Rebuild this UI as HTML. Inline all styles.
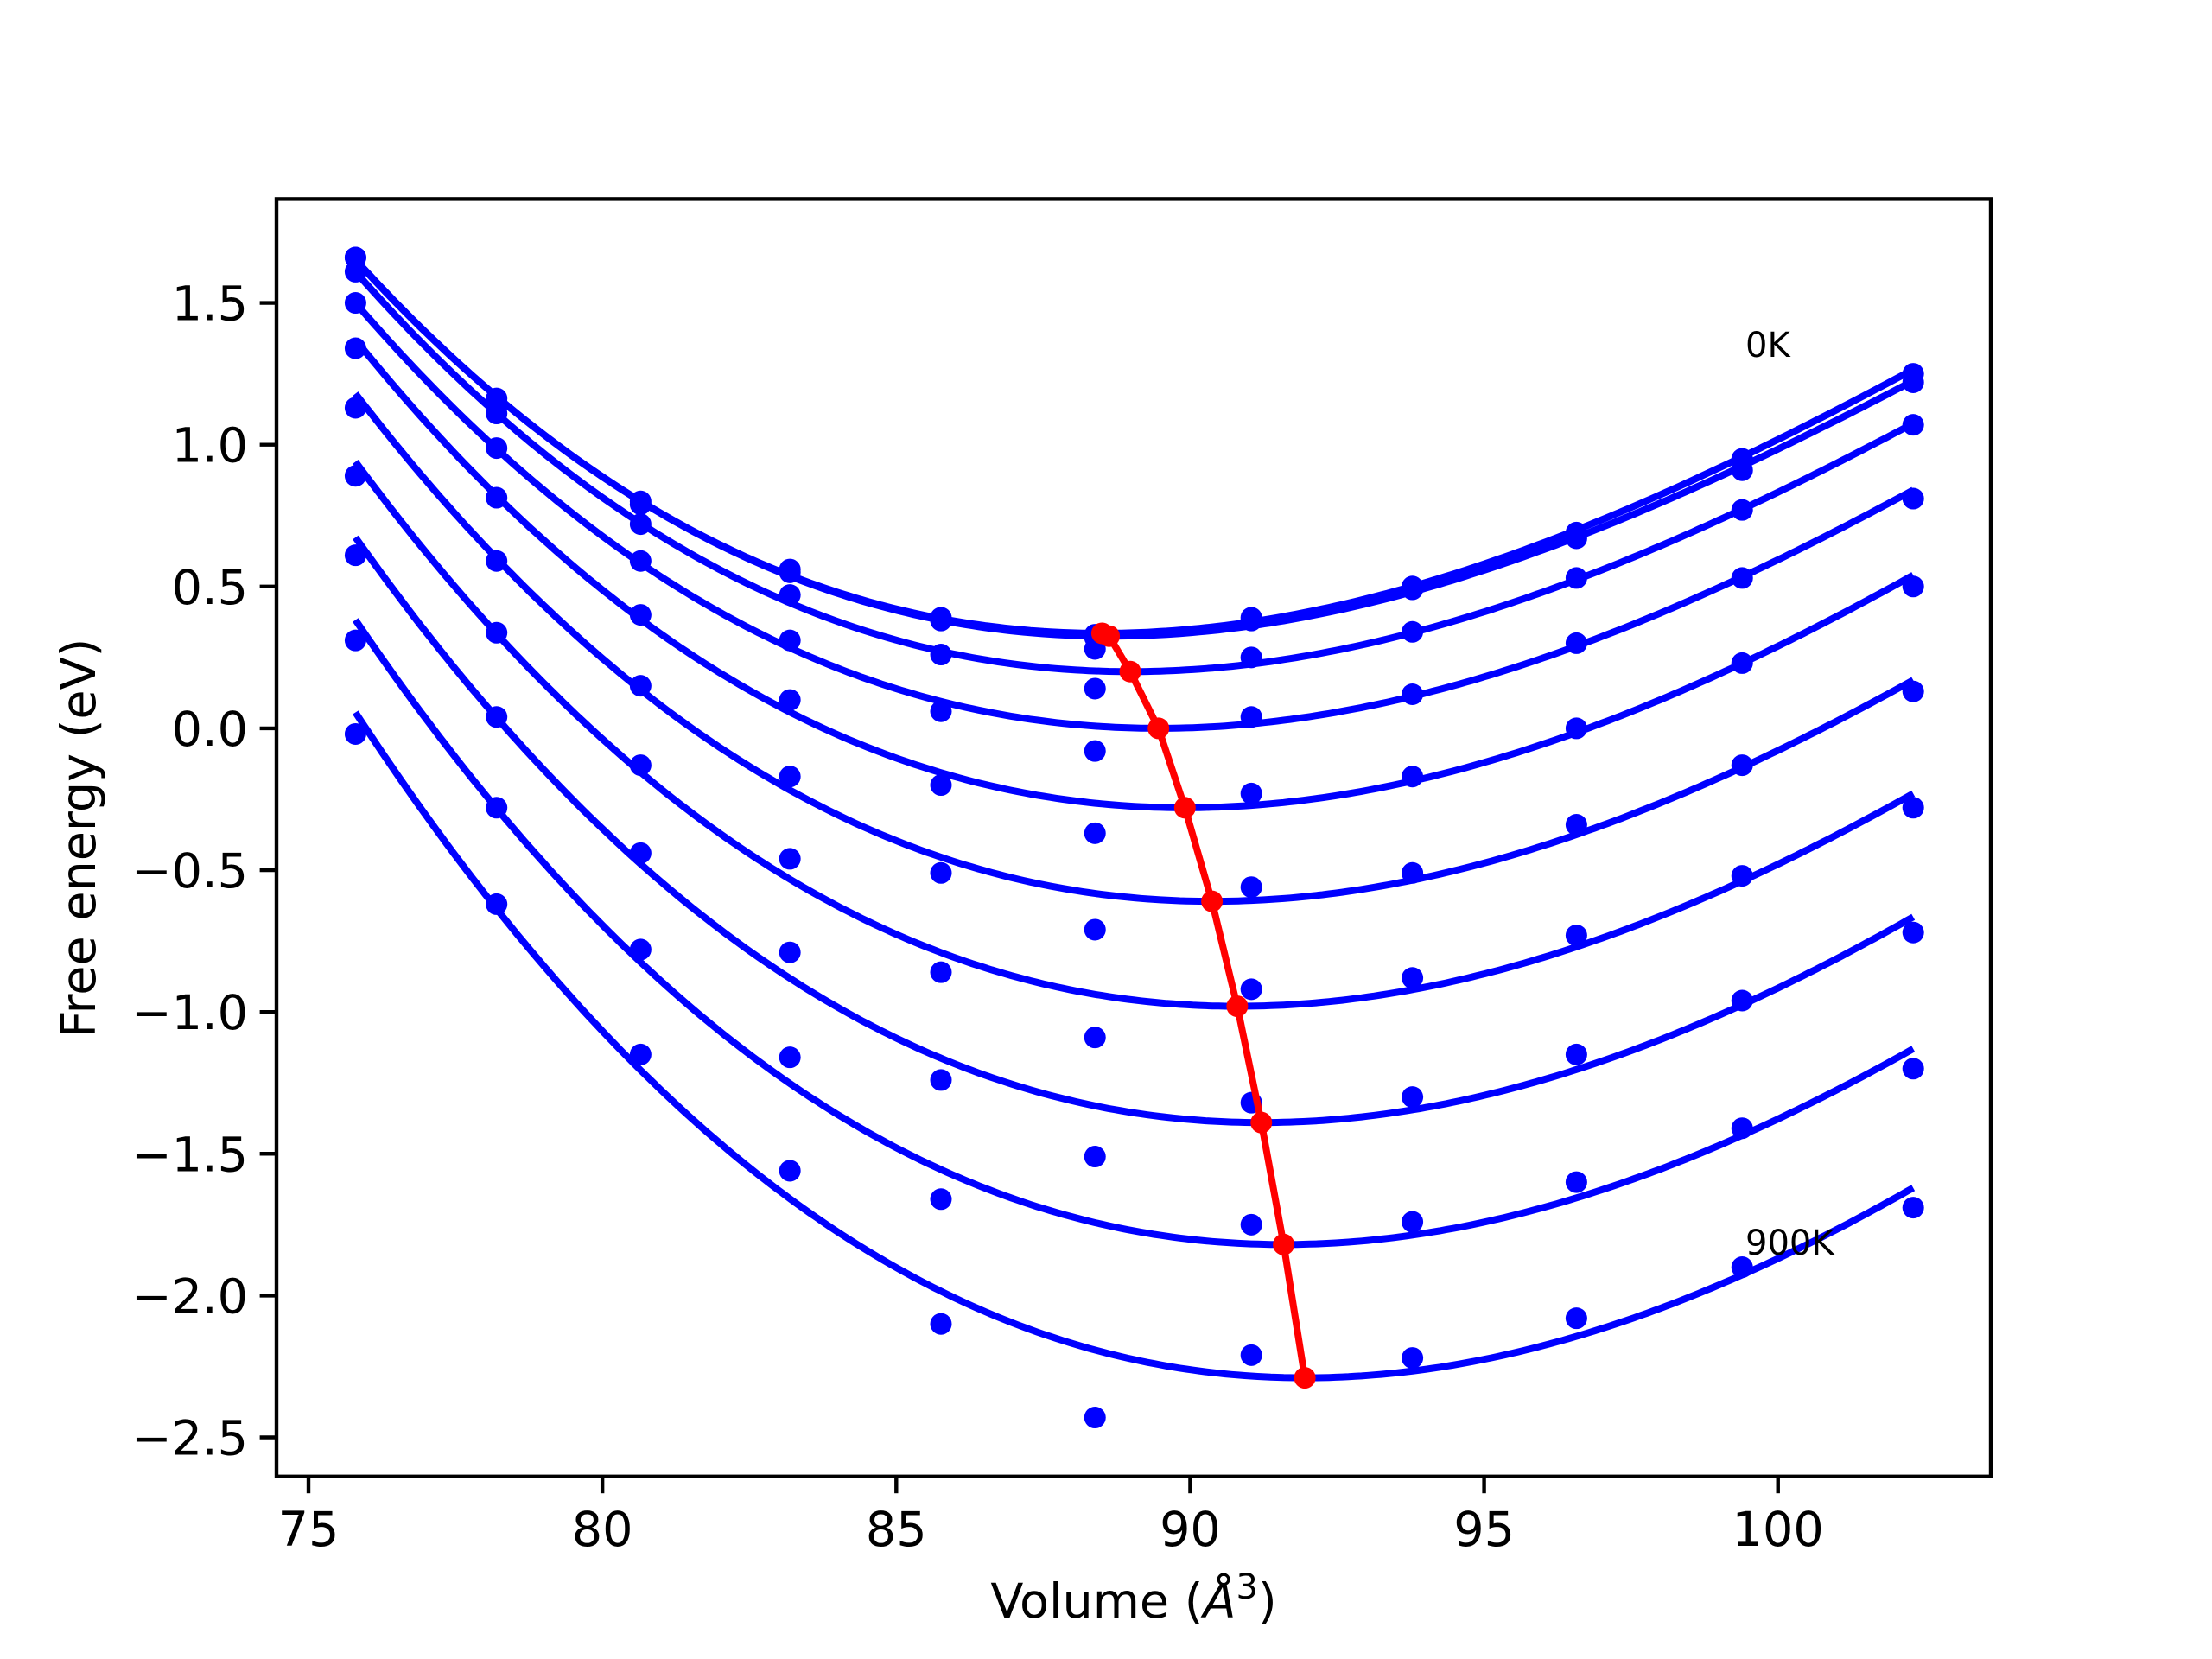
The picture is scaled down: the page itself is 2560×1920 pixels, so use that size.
<!DOCTYPE html>
<html><head><meta charset="utf-8"><style>
html,body{margin:0;padding:0;background:#fff;}
svg{display:block;font-family:"DejaVu Sans","Liberation Sans",sans-serif;}
</style></head>
<body>
<svg id="chart" width="2560" height="1920" viewBox="0 0 2560 1920" xmlns="http://www.w3.org/2000/svg">
<rect x="0" y="0" width="2560" height="1920" fill="#fff"/>
<g id="curves"></g>
<g id="dots"></g>
<g id="minline"></g>
<rect x="320" y="230.4" width="1984" height="1478.4" fill="none" stroke="#000" stroke-width="4.4"/>
<g id="xticks"></g>
<g id="yticks"></g>
<text x="2020" y="413" font-size="40">0K</text>
<text x="2020" y="1452" font-size="40">900K</text>
<text x="1312" y="1872" font-size="55.6" text-anchor="middle">Volume (<tspan font-style="italic">Å</tspan><tspan dy="-22" font-size="40">3</tspan><tspan dy="22">)</tspan></text>
<text transform="translate(110,970) rotate(-90)" font-size="55.6" text-anchor="middle">Free energy (eV)</text>
</svg>
<script>
const volumes = [75.8, 78.2, 80.65, 83.19, 85.76, 88.38, 91.04, 93.78, 96.57, 99.39, 102.3];
const temps = ["0K","100K","200K","300K","400K","500K","600K","700K","800K","900K"];
const dots0 = [1.66, 1.163, 0.80, 0.56, 0.39, 0.33, 0.39, 0.50, 0.69, 0.95, 1.25];
const dots1 = [1.66, 1.15, 0.79, 0.55, 0.38, 0.32, 0.38, 0.49, 0.67, 0.91, 1.22];
const dots2 = [1.61, 1.11, 0.72, 0.47, 0.26, 0.28, 0.25, 0.34, 0.53, 0.77, 1.07];
const dots3 = [1.50, 0.988, 0.59, 0.31, 0.06, 0.14, 0.04, 0.12, 0.30, 0.53, 0.81];
const dots4 = [1.34, 0.813, 0.40, 0.10, -0.20, -0.08, -0.23, -0.17, 0.0, 0.23, 0.50];
const dots5 = [1.13, 0.59, 0.15, -0.17, -0.51, -0.37, -0.56, -0.51, -0.34, -0.13, 0.13];
const dots6 = [0.89, 0.337, -0.13, -0.46, -0.86, -0.71, -0.92, -0.88, -0.73, -0.52, -0.28];
const dots7 = [0.61, 0.04, -0.44, -0.79, -1.24, -1.09, -1.32, -1.30, -1.15, -0.96, -0.72];
const dots8 = [0.31, -0.28, -0.78, -1.16, -1.66, -1.51, -1.75, -1.74, -1.60, -1.41, -1.20];
const dots9 = [-0.02, -0.62, -1.15, -1.56, -2.10, -2.43, -2.21, -2.22, -2.08, -1.90, -1.69];
const curveLeftE = [1.652, 1.652, 1.61, 1.50, 1.37, 1.18, 0.94, 0.673, 0.382, 0.056];
const curveRightE = [1.265, 1.225, 1.075, 0.84, 0.54, 0.17, -0.23, -0.665, -1.13, -1.62];
const minV = [88.5, 88.62, 88.98, 89.46, 89.91, 90.37, 90.80, 91.21, 91.59, 91.95];
const minE = [0.335, 0.325, 0.20, 0.0, -0.28, -0.61, -0.98, -1.39, -1.82, -2.29];
const xTicks = [75, 80, 85, 90, 95, 100];
const yTicks = [1.5, 1.0, 0.5, 0.0, -0.5, -1.0, -1.5, -2.0, -2.5];
const yTickLabels = ["1.5","1.0","0.5","0.0","\u22120.5","\u22121.0","\u22121.5","\u22122.0","\u22122.5"];

const allDots = [dots0,dots1,dots2,dots3,dots4,dots5,dots6,dots7,dots8,dots9];
const NS = "http://www.w3.org/2000/svg";
const X0=320, X1=2304, Y0=230.4, Y1=1708.8;
const xmin=74.456, xmax=103.62, ymin=-2.638, ymax=1.866;
function sx(v){return X0+(v-xmin)/(xmax-xmin)*(X1-X0);}
function sy(e){return Y1-(e-ymin)/(ymax-ymin)*(Y1-Y0);}
function mk(tag, attrs, parent){const el=document.createElementNS(NS,tag);for(const k in attrs)el.setAttribute(k,attrs[k]);parent.appendChild(el);return el;}

const gC=document.getElementById('curves');
const vL=volumes[0], vR=volumes[volumes.length-1];
temps.forEach((t,i)=>{
  const V0=minV[i], E0=minE[i];
  const dL=vL-V0, dR=vR-V0;
  const yl=curveLeftE[i]-E0, yr=curveRightE[i]-E0;
  const det=dL*dL*dR*dR*dR - dL*dL*dL*dR*dR;
  const a=(yl*dR*dR*dR - yr*dL*dL*dL)/det;
  const b=(dL*dL*yr - dR*dR*yl)/det;
  let d="";
  for(let k=0;k<=240;k++){const v=vL+(vR-vL)*k/240;const dd=v-V0;const e=E0+a*dd*dd+b*dd*dd*dd;d+=(k?"L":"M")+sx(v).toFixed(1)+","+sy(e).toFixed(1);}
  const p=mk('path',{d:d,fill:'none',stroke:'#0000ff','stroke-width':8},gC);
  
  
});

const gD=document.getElementById('dots');
allDots.forEach((arr,i)=>{
  arr.forEach((e,j)=>{
    const c=mk('circle',{cx:sx(volumes[j]),cy:sy(e),r:12.5,fill:'#0000ff'},gD);
    
    
  });
});

const gM=document.getElementById('minline');
let md="";
minV.forEach((v,i)=>{md+=(i?"L":"M")+sx(v).toFixed(1)+","+sy(minE[i]).toFixed(1);});
const ml=mk('path',{d:md,fill:'none',stroke:'#ff0000','stroke-width':8,'stroke-linejoin':'round'},gM);


minV.forEach((v,i)=>{
  const c=mk('circle',{cx:sx(v),cy:sy(minE[i]),r:12.5,fill:'#ff0000'},gM);
  
  
});

const gX=document.getElementById('xticks');
xTicks.forEach(v=>{
  const x=sx(v);
  const l=mk('line',{x1:x,x2:x,y1:Y1,y2:Y1+19.4,stroke:'#000','stroke-width':4.4},gX);
  
  
  const tx=mk('text',{x:x,y:Y1+80,'font-size':55.6,'text-anchor':'middle'},gX);
  tx.textContent=String(v);
  
  
});
const gY=document.getElementById('yticks');
yTicks.forEach((v,i)=>{
  const y=sy(v);
  const l=mk('line',{x1:X0-19.4,x2:X0,y1:y,y2:y,stroke:'#000','stroke-width':4.4},gY);
  
  
  const tx=mk('text',{x:X0-33,y:y+20,'font-size':55.6,'text-anchor':'end'},gY);
  tx.textContent=yTickLabels[i];
  
  
});
</script>
</body></html>
